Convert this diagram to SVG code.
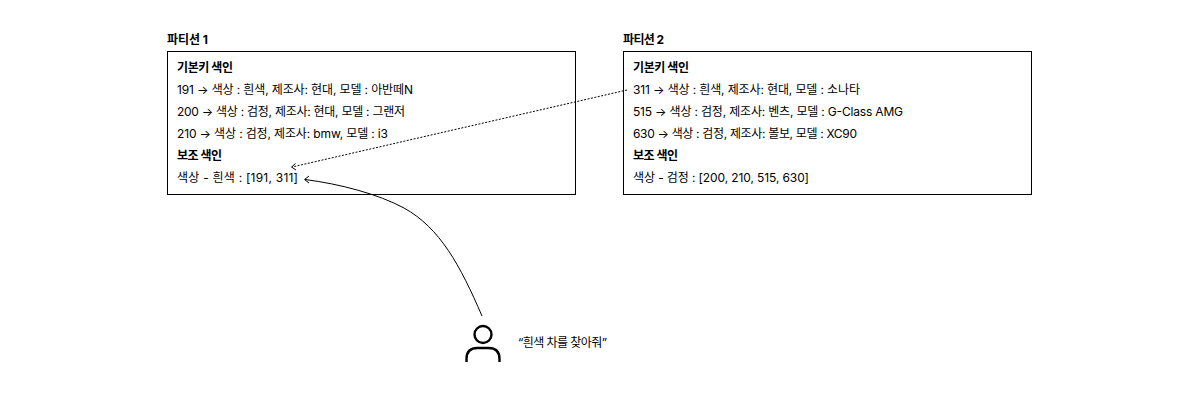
<svg xmlns="http://www.w3.org/2000/svg" width="1200" height="411" viewBox="0 0 1200 411">
<style>
text{font-family:"Inter","Noto Sans CJK KR",sans-serif;font-size:12px;fill:#000}
.b{font-weight:700}
.box{fill:#fff;stroke:#000;stroke-width:1}
.c{fill:none;stroke:#000;stroke-width:1}
.u{fill:none;stroke:#000;stroke-width:2.400}
</style>
<rect width="1200" height="411" fill="#fff"/>
<g id="partition1">
<text class="b" x="167" y="44" textLength="41">파티션 1</text>
<rect class="box" x="167.500" y="51.500" width="408" height="143"/>
<text class="b" x="177" y="72" textLength="56">기본키 색인</text>
<text x="177" y="94" textLength="236">191 → 색상 : 흰색, 제조사: 현대, 모델 : 아반떼N</text>
<text x="177" y="116" textLength="228">200 → 색상 : 검정, 제조사: 현대, 모델 : 그랜저</text>
<text x="177" y="138" textLength="211">210 → 색상 : 검정, 제조사: bmw, 모델 : i3</text>
<text class="b" x="177" y="160" textLength="45">보조 색인</text>
<text x="177" y="182" textLength="121">색상 - 흰색 : [191, 311]</text>
</g>
<g id="partition2">
<text class="b" x="623" y="44" textLength="41">파티션 2</text>
<rect class="box" x="623.500" y="51.500" width="408" height="143"/>
<text class="b" x="633" y="72" textLength="56">기본키 색인</text>
<text x="633" y="94" textLength="227">311 → 색상 : 흰색, 제조사: 현대, 모델 : 소나타</text>
<text x="633" y="116" textLength="270">515 → 색상 : 검정, 제조사: 벤츠, 모델 : G-Class AMG</text>
<text x="633" y="138" textLength="224">630 → 색상 : 검정, 제조사: 볼보, 모델 : XC90</text>
<text class="b" x="633" y="160" textLength="45">보조 색인</text>
<text x="633" y="182" textLength="176">색상 - 검정 : [200, 210, 515, 630]</text>
</g>
<g id="user">
<circle class="u" cx="483" cy="334.500" r="8.500"/>
<path class="u" d="M466.500 362V359Q466.500 348 477.500 348H488.500Q499.500 348 499.500 359V362"/>
<text x="518" y="347" textLength="89">“흰색 차를 찾아줘”</text>
</g>
<g id="connectors">
<path class="c" stroke-dasharray="2 1.500" d="M627 90L292 167"/>
<path class="c" d="M295.500 163.500L291.500 167L296 170"/>
<path class="c" d="M482 316C460 265 440 228 404 208C378 194 340 184 305 179.500"/>
<path class="c" d="M309 176L304.500 179.500L309 183"/>
</g>
</svg>
